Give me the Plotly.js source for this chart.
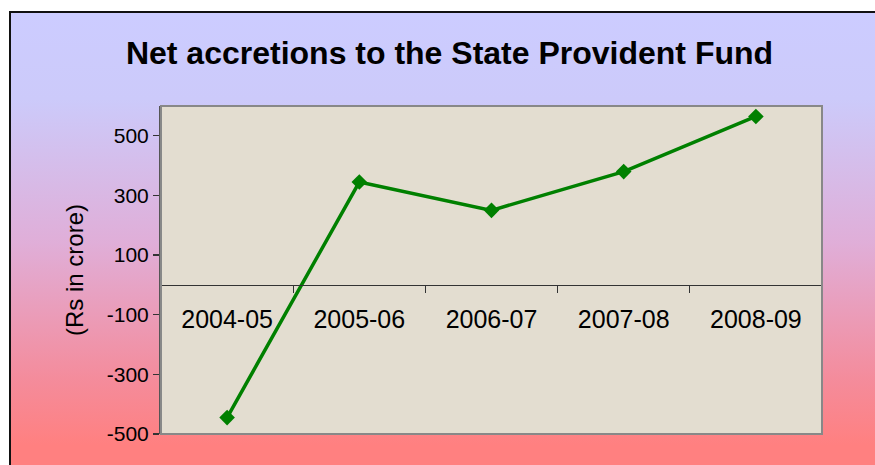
<!DOCTYPE html>
<html>
<head>
<meta charset="utf-8">
<script src="https://cdn.plot.ly/plotly-3.0.1.min.js"></script>
<style>
  html, body { margin: 0; padding: 0; background: #ffffff; }
  #wrap { position: relative; width: 875px; height: 465px; overflow: hidden; background: #ffffff; }
  #bg { position: absolute; left: 9px; top: 11px; width: 900px; height: 480px;
        border-left: 2px solid #111; border-top: 2px solid #111;
        background: linear-gradient(to bottom, #CCCCFF 0%, #CCCAFA 18%, #E0AED8 48%, #F48C9C 76%, #FF8080 90%, #FF8080 100%); }
  #chart { position: absolute; left: 0; top: 0; width: 875px; height: 465px; }
</style>
</head>
<body>
<div id="wrap">
  <div id="bg"></div>
  <div id="chart"></div>
</div>
<script>
const chartTitle = "Net accretions to the State Provident Fund";
const yAxisTitle = "(Rs in crore)";
const categories = ["2004-05", "2005-06", "2006-07", "2007-08", "2008-09"];
const netAccretions = [-445, 345, 250, 380, 565];
const yTickVals = [-500, -300, -100, 100, 300, 500];
const yRange = [-500, 600];

const zeroPos = (0 - yRange[0]) / (yRange[1] - yRange[0]);

const trace = {
  type: "scatter",
  mode: "lines+markers",
  x: categories,
  y: netAccretions,
  line: { color: "#008000", width: 3.5 },
  marker: { symbol: "diamond", size: 12, color: "#008000" },
  hoverinfo: "x+y"
};

const layout = {
  width: 875,
  height: 465,
  margin: { l: 161, r: 53, t: 106, b: 31 },
  paper_bgcolor: "rgba(0,0,0,0)",
  plot_bgcolor: "#E3DDD0",
  showlegend: false,
  font: { family: "Liberation Sans, Arial, sans-serif", color: "#000000" },
  title: {
    text: "<b>" + chartTitle + "</b>",
    font: { family: "Liberation Sans, Arial, sans-serif", size: 32, color: "#000000" },
    xref: "container", x: 449.5 / 875, xanchor: "center",
    yref: "container", y: 1 - 53 / 465, yanchor: "middle"
  },
  xaxis: {
    type: "category",
    anchor: "free",
    position: zeroPos,
    range: [-0.5, categories.length - 0.5],
    showline: true,
    linecolor: "#333333",
    linewidth: 1.5,
    ticks: "outside",
    tickson: "boundaries",
    ticklen: 7,
    tickwidth: 1.2,
    tickcolor: "#333333",
    showgrid: false,
    zeroline: false,
    tickfont: { size: 25, color: "#000000" },
    ticklabelstandoff: 12,
    fixedrange: true
  },
  yaxis: {
    range: yRange,
    tickvals: yTickVals,
    ticktext: yTickVals.map(String),
    showline: true,
    linecolor: "#555555",
    linewidth: 2,
    ticks: "outside",
    ticklen: 6,
    tickwidth: 1.2,
    tickcolor: "#333333",
    showgrid: false,
    zeroline: false,
    tickfont: { size: 21, color: "#000000" },
    ticklabelstandoff: 0,
    automargin: true,
    title: { text: yAxisTitle, font: { size: 24, color: "#000000" }, standoff: 16 },
    fixedrange: true
  },
  shapes: [
    { type: "rect", xref: "paper", yref: "paper", x0: 0, x1: 1, y0: 0, y1: 1,
      line: { color: "#888888", width: 2 }, layer: "above" }
  ]
};

Plotly.newPlot("chart", [trace], layout, { displayModeBar: false, staticPlot: true });
</script>
</body>
</html>
